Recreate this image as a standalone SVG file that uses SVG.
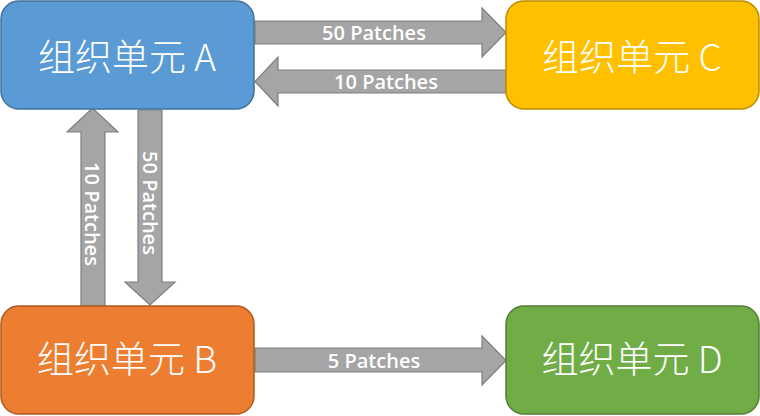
<svg xmlns="http://www.w3.org/2000/svg" width="760" height="416" viewBox="0 0 760 416">
<style>
.node rect{stroke-width:1.5}
.nt{font-family:"Noto Sans CJK SC","Noto Sans",sans-serif;font-size:37px;font-weight:300;fill:#fff;text-anchor:middle}
.arr{fill:#A5A5A5;stroke:#7F7F7F;stroke-width:1.2}
.lt{font-family:"Open Sans","Noto Sans",sans-serif;font-size:20px;fill:#fff;text-anchor:middle;font-weight:600}
</style>
<rect width="760" height="416" fill="#fff"/>
<g id="connectors">
  <g id="a-c">
    <polygon class="arr" points="255,21 482,21 482,8 506,32.5 482,57 482,44 255,44"/>
    <text class="lt" x="374" y="40">50 Patches</text>
  </g>
  <g id="c-a">
    <polygon class="arr" points="506,70 278,70 278,57 255,81.5 278,106 278,93 506,93"/>
    <text class="lt" x="386" y="89">10 Patches</text>
  </g>
  <g id="b-a">
    <polygon class="arr" points="81,306 81,132 67,132 92.5,108 118,132 105,132 105,306"/>
    <text class="lt" transform="translate(85,214) rotate(90)" x="0" y="0">10 Patches</text>
  </g>
  <g id="a-b">
    <polygon class="arr" points="138,110 162,110 162,282 175,282 150,305 125,282 138,282"/>
    <text class="lt" transform="translate(143,203) rotate(90)" x="0" y="0">50 Patches</text>
  </g>
  <g id="b-d">
    <polygon class="arr" points="255,348 482,348 482,336 506,360.5 482,385 482,372 255,372"/>
    <text class="lt" x="374" y="368">5 Patches</text>
  </g>
</g>
<g id="nodeA" class="node">
  <rect x="1" y="1" width="253" height="108" rx="18" fill="#5B9BD5" stroke="#41719C"/>
  <text class="nt" x="127" y="71">组织单元 A</text>
</g>
<g id="nodeC" class="node">
  <rect x="506" y="1" width="253" height="108" rx="18" fill="#FFC000" stroke="#BC8C00"/>
  <text class="nt" x="632" y="71">组织单元 C</text>
</g>
<g id="nodeB" class="node">
  <rect x="1" y="306" width="253" height="108" rx="18" fill="#ED7D31" stroke="#AE5A21"/>
  <text class="nt" x="127" y="373">组织单元 B</text>
</g>
<g id="nodeD" class="node">
  <rect x="506" y="306" width="253" height="108" rx="18" fill="#70AD47" stroke="#507E32"/>
  <text class="nt" x="632" y="373">组织单元 D</text>
</g>
</svg>
